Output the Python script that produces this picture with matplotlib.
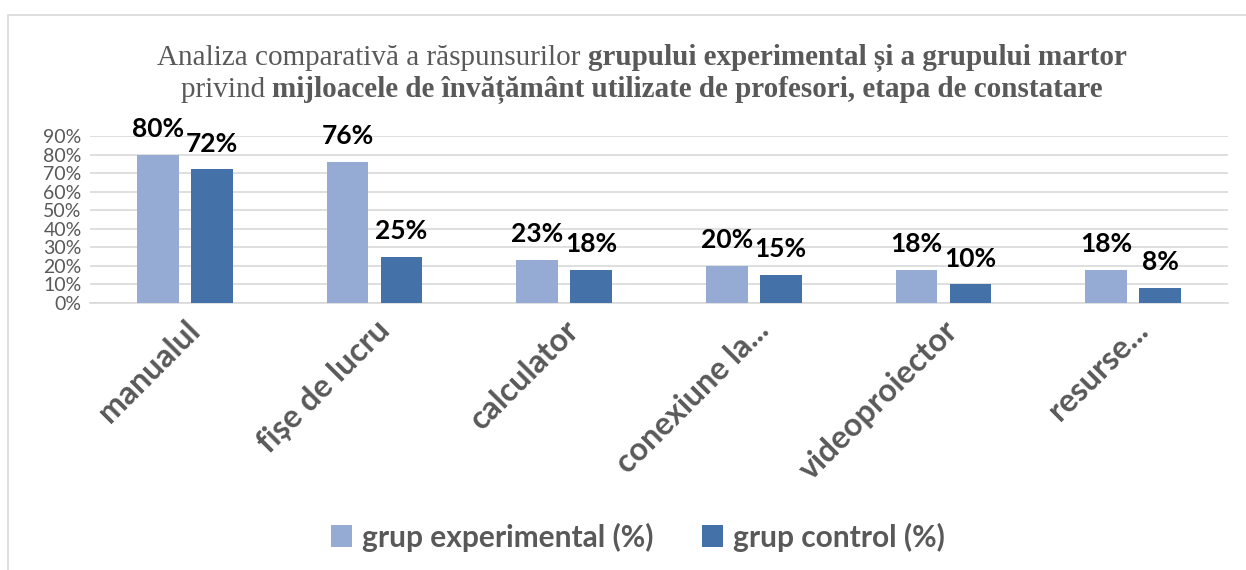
import matplotlib.pyplot as plt
import numpy as np
from matplotlib.patches import Rectangle

categories = ['manualul', 'fișe de lucru', 'calculator', 'conexiune la...', 'videoproiector', 'resurse...']
experimental = [80, 76, 23, 20, 18, 18]
control = [72, 25, 18, 15, 10, 8]
series_names = ['grup experimental (%)', 'grup control (%)']
yticks = [0, 10, 20, 30, 40, 50, 60, 70, 80, 90]

title_line1 = [('Analiza comparativă a răspunsurilor ', 'normal'),
               ('grupului experimental și a grupului martor', 'bold')]
title_line2 = [('privind ', 'normal'),
               ('mijloacele de învățământ utilizate de profesori, etapa de constatare', 'bold')]

c_exp = '#95ABD4'
c_ctrl = '#4472A8'
grey = '#595959'
sans = ['Lato', 'DejaVu Sans']

W, H = 1246, 570
fig = plt.figure(figsize=(W / 100, H / 100), dpi=100)

# outer chart frame
fig.patches.append(Rectangle((8 / W, -0.05), 1.1, 1 - 15 / H + 0.05, transform=fig.transFigure,
                             fill=False, edgecolor='#D9D9D9', linewidth=1.2))

ax = fig.add_axes([90 / W, 1 - 303 / H, (1228 - 90) / W, (303 - 136) / H])

x = np.arange(len(categories))
bw = 0.22
off = 0.142
b1 = ax.bar(x - off, experimental, bw, color=c_exp, label=series_names[0], zorder=3)
b2 = ax.bar(x + off, control, bw, color=c_ctrl, label=series_names[1], zorder=3)

for bars, vals in ((b1, experimental), (b2, control)):
    for rect, v in zip(bars, vals):
        ax.annotate(f'{v}%', (rect.get_x() + rect.get_width() / 2, v), xytext=(0, 10),
                    textcoords='offset points', ha='center', va='bottom',
                    fontsize=19, fontweight='bold', family=sans, color='black', zorder=4)

ax.set_xlim(-0.5, len(categories) - 0.5)
ax.set_ylim(0, 90)
ax.set_yticks(yticks)
ax.set_yticklabels([f'{t}%' for t in yticks], fontsize=14, color=grey, family=sans)
ax.yaxis.grid(True, color='#D9D9D9', linewidth=1.2, zorder=0)
ax.set_xticks(x)
ax.set_xticklabels(categories, rotation=45, ha='right', rotation_mode='anchor',
                   fontsize=23, fontweight='bold', color=grey, family=sans)
ax.tick_params(length=0)
ax.tick_params(axis='x', pad=9)
ax.tick_params(axis='y', pad=6)
for s in ['top', 'right', 'left']:
    ax.spines[s].set_visible(False)
ax.spines['bottom'].set_color('#D9D9D9')
ax.spines['bottom'].set_linewidth(1.2)

# title with mixed weights
renderer = fig.canvas.get_renderer()
def mixed_line(parts, yc, xc=642):
    texts = []
    for s, w in parts:
        t = fig.text(0, 1 - yc / H, s, fontsize=21, fontweight=w, family='Liberation Serif',
                     color=grey, va='center', ha='left')
        texts.append(t)
    widths = [t.get_window_extent(renderer).width for t in texts]
    start = xc - sum(widths) / 2
    for t, w in zip(texts, widths):
        t.set_x(start / W)
        start += w

mixed_line(title_line1, 58)
mixed_line(title_line2, 90)

fig.legend(handles=[b1, b2], labels=series_names, loc='center', bbox_to_anchor=(638 / W, 1 - 537 / H),
           ncol=2, frameon=False, prop={'family': sans, 'weight': 'bold', 'size': 21.5},
           labelcolor=grey, handlelength=0.7, handleheight=0.75, handletextpad=0.35, columnspacing=1.6)

fig.savefig('out.png', dpi=100)
